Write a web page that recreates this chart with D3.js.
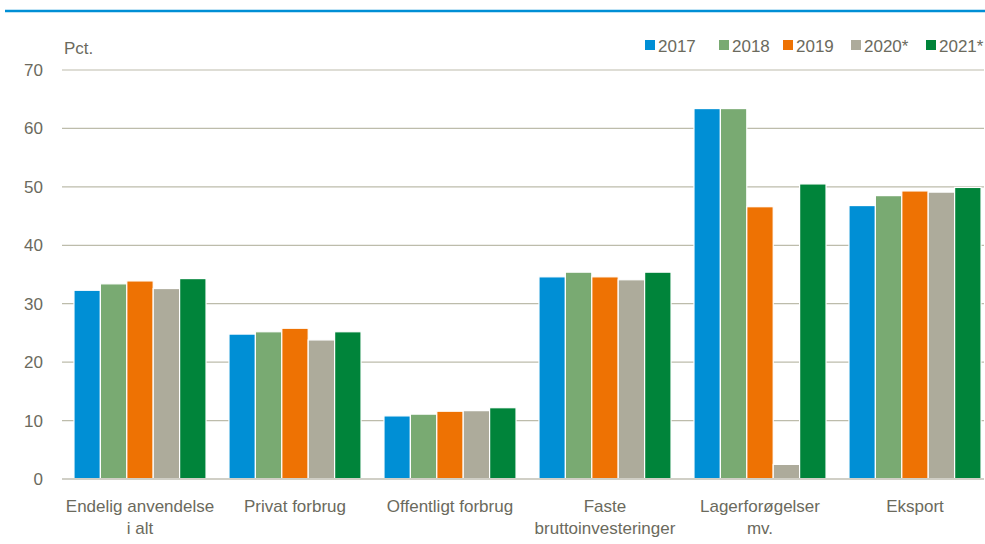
<!DOCTYPE html>
<html>
<head>
<meta charset="utf-8">
<script src="https://cdn.jsdelivr.net/npm/d3@7"></script>
<style>
  body { margin: 0; background: #fff; }
  svg text { font-family: "Liberation Sans Narrow", "Arial Narrow", "Liberation Sans", sans-serif; fill: #6b6a5d; }
</style>
</head>
<body>
<svg width="985" height="544"></svg>
<script>
const categories = [
  ['Endelig anvendelse', 'i alt'],
  ['Privat forbrug'],
  ['Offentligt forbrug'],
  ['Faste', 'bruttoinvesteringer'],
  ['Lagerforøgelser', 'mv.'],
  ['Eksport']
]
const years = ['2017', '2018', '2019', '2020*', '2021*']
const colors = ['#008fd5', '#79aa72', '#ee7203', '#adab9b', '#00843a']
const values2017 = [32.3, 24.8, 10.8, 34.6, 63.4, 46.8]
const values2018 = [33.4, 25.2, 11.1, 35.4, 63.4, 48.5]
const values2019 = [33.9, 25.8, 11.6, 34.6, 46.6, 49.3]
const values2020 = [32.6, 23.8, 11.7, 34.1, 2.5, 49.1]
const values2021 = [34.3, 25.2, 12.2, 35.4, 50.5, 49.9]
const yTicks = [0, 10, 20, 30, 40, 50, 60, 70]

const series = [values2017, values2018, values2019, values2020, values2021]

const width = 985, height = 544
    , plotLeft = 62, plotRight = 984
    , plotTop = 70, plotBottom = 479
    , svg = d3.select('svg')

const scaleX = d3.scaleBand()
    .domain(d3.range(categories.length))
    .range([62.5, 992.5])
    .paddingInner(0.148)
    .paddingOuter(0.074)
const scaleSub = d3.scaleBand()
    .domain(d3.range(years.length))
    .range([0, scaleX.bandwidth()])
const scaleY = d3.scaleLinear()
    .domain([0, 70])
    .range([plotBottom, plotTop])

// blue rule at the top
svg.append('line')
    .attr('x1', 5).attr('x2', width)
    .attr('y1', 11).attr('y2', 11)
    .attr('stroke', '#008fd5').attr('stroke-width', 2.5)

// grid
svg.selectAll('line.grid')
    .data(yTicks.filter(d => d > 0))
    .join('line')
    .attr('class', 'grid')
    .attr('x1', plotLeft).attr('x2', plotRight)
    .attr('y1', scaleY).attr('y2', scaleY)
    .attr('stroke', '#bdbcab').attr('stroke-width', 1.2)

svg.selectAll('text.ytick')
    .data(yTicks)
    .join('text')
    .attr('class', 'ytick')
    .attr('x', 43)
    .attr('y', d => scaleY(d) + 6)
    .attr('text-anchor', 'end')
    .attr('font-size', 17)
    .text(d => d)

svg.append('text')
    .attr('x', 64).attr('y', 54)
    .attr('font-size', 17)
    .text('Pct.')

// bars
const groups = svg.selectAll('g.group')
    .data(categories.map((c, i) => i))
    .join('g')
    .attr('class', 'group')
    .attr('transform', i => `translate(${scaleX(i)},0)`)

groups.selectAll('rect')
    .data(i => series.map((s, j) => ({ j, v: s[i] })))
    .join('rect')
    .attr('x', d => scaleSub(d.j))
    .attr('width', scaleSub.bandwidth())
    .attr('y', d => scaleY(d.v))
    .attr('height', d => scaleY(0) - scaleY(d.v))
    .attr('fill', d => colors[d.j])
    .attr('stroke', '#fff')
    .attr('stroke-width', 1.2)

// zero line
svg.append('line')
    .attr('x1', plotLeft).attr('x2', plotRight)
    .attr('y1', scaleY(0)).attr('y2', scaleY(0))
    .attr('stroke', '#d0cfc6').attr('stroke-width', 2)

// category labels
svg.selectAll('text.xlabel')
    .data(categories)
    .join('text')
    .attr('class', 'xlabel')
    .attr('text-anchor', 'middle')
    .attr('font-size', 17)
    .each(function (lines, i) {
        const t = d3.select(this)
        lines.forEach((l, k) => {
            t.append('tspan')
                .attr('x', scaleX(i) + scaleX.bandwidth() / 2)
                .attr('y', 512 + k * 22)
                .text(l)
        })
    })

// legend
const legendX = [645, 719, 783, 851, 926]
const legend = svg.selectAll('g.legend')
    .data(years)
    .join('g')
    .attr('class', 'legend')
    .attr('transform', (d, i) => `translate(${legendX[i]},0)`)
legend.append('rect')
    .attr('x', 0).attr('y', 40)
    .attr('width', 10).attr('height', 10)
    .attr('fill', (d, i) => colors[i])
legend.append('text')
    .attr('x', 13).attr('y', 52)
    .attr('font-size', 17)
    .text(d => d)
</script>
</body>
</html>
